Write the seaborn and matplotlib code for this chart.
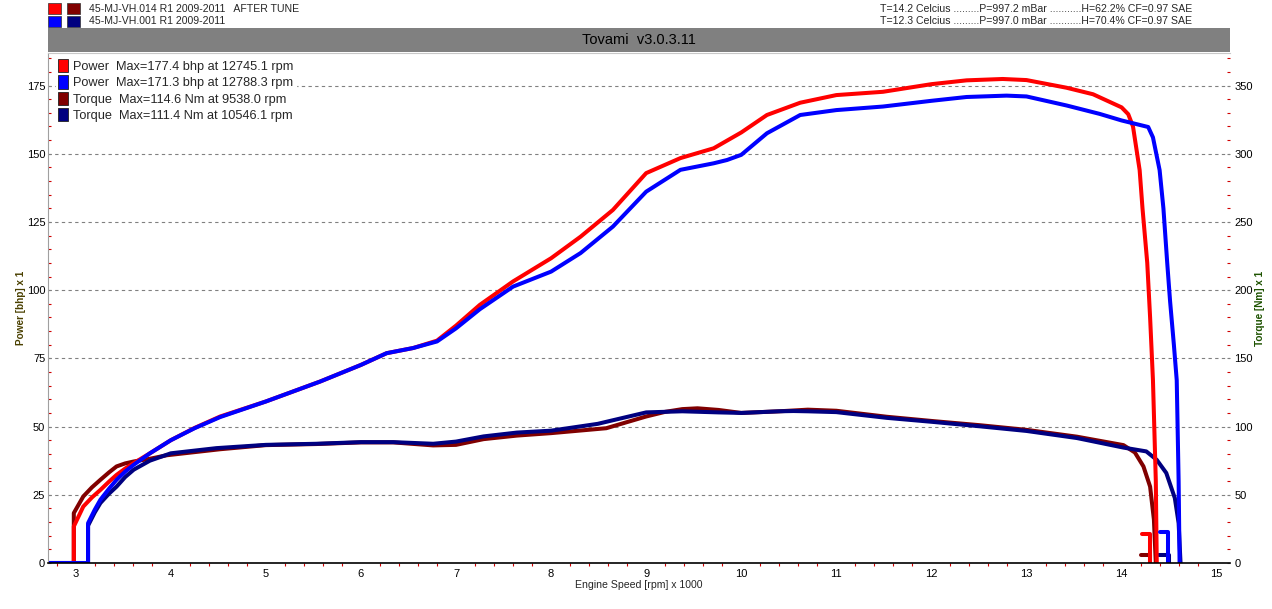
import numpy as np
import pandas as pd
import matplotlib
matplotlib.use("Agg")
import matplotlib.pyplot as plt
import seaborn as sns
from matplotlib.patches import Rectangle, Patch
from matplotlib.ticker import MultipleLocator

# ---------------- data (rpm in x1000) ----------------
rpm_power_tuned = [2.71, 2.98, 2.98, 3.08, 3.17, 3.26, 3.35, 3.43, 3.52, 3.61, 3.78, 4.00, 4.25,
                   4.52, 5.00, 5.57, 6.00, 6.27, 6.55, 6.80, 7.00, 7.25, 7.60, 8.00, 8.31, 8.65,
                   9.00, 9.36, 9.71, 10.00, 10.27, 10.62, 11.00, 11.49, 12.00, 12.37, 12.75,
                   13.00, 13.42, 13.70, 14.00, 14.07, 14.12, 14.19, 14.22, 14.27, 14.30, 14.33,
                   14.36, 14.37]
power_tuned = [0, 0, 13.4, 20.7, 24.0, 26.8, 29.8, 32.3, 34.6, 36.6, 40.2, 45.0, 49.5,
               53.7, 59.2, 66.5, 72.6, 76.9, 78.8, 81.5, 87.0, 94.6, 103.2, 111.7, 119.6, 129.4,
               142.9, 148.4, 152.0, 157.8, 164.2, 168.7, 171.5, 172.7, 175.5, 176.9, 177.4,
               177.0, 174.2, 171.8, 167.0, 164.5, 160.0, 144.0, 130.0, 110.0, 90.0, 67.0,
               30.0, 0]

rpm_power_stock = [2.71, 3.13, 3.13, 3.20, 3.26, 3.35, 3.43, 3.52, 3.61, 3.78, 4.00, 4.25, 4.52,
                   5.00, 5.57, 6.00, 6.27, 6.55, 6.80, 7.00, 7.25, 7.60, 8.00, 8.31, 8.65, 9.00,
                   9.36, 9.71, 9.85, 10.00, 10.27, 10.62, 11.00, 11.49, 12.00, 12.37, 12.79,
                   13.00, 13.42, 13.77, 14.00, 14.28, 14.33, 14.40, 14.44, 14.48, 14.51, 14.55,
                   14.58, 14.60, 14.61]
power_stock = [0, 0, 14.6, 19.5, 23.2, 27.2, 30.5, 33.5, 36.0, 40.2, 45.0, 49.4, 53.5,
               59.2, 66.5, 72.6, 76.9, 78.8, 81.2, 86.0, 93.0, 101.3, 106.8, 113.6, 123.3, 136.1,
               144.1, 146.5, 147.7, 149.6, 157.5, 164.2, 166.0, 167.3, 169.4, 170.8, 171.3,
               171.0, 167.7, 164.6, 162.2, 159.8, 156.0, 144.0, 130.0, 110.0, 96.0, 80.0,
               67.0, 30.0, 0]

rpm_torque_tuned = [2.71, 2.98, 2.98, 3.08, 3.17, 3.26, 3.35, 3.43, 3.52, 3.61, 3.78, 3.96, 4.52,
                    5.00, 5.53, 6.00, 6.34, 6.76, 7.00, 7.29, 7.64, 8.00, 8.58, 9.00, 9.20, 9.38,
                    9.54, 9.76, 10.00, 10.40, 10.70, 11.00, 11.53, 12.02, 12.51, 13.00, 13.53,
                    14.02, 14.14, 14.23, 14.30, 14.34, 14.36]
torque_tuned = [0, 0, 36.6, 48.8, 55.4, 61.0, 66.4, 70.8, 73.0, 74.4, 76.4, 79.0, 83.4,
                86.4, 87.2, 88.4, 88.4, 86.2, 86.6, 90.8, 93.4, 95.2, 98.8, 107.4, 110.8, 112.8,
                113.4, 112.2, 110.0, 111.2, 112.4, 111.6, 107.2, 104.0, 101.0, 97.6, 92.6,
                86.4, 81.0, 70.8, 56.0, 31.8, 0]

rpm_torque_stock = [2.71, 3.13, 3.13, 3.20, 3.26, 3.35, 3.43, 3.52, 3.61, 3.78, 4.00, 4.48, 5.00,
                    5.53, 6.00, 6.34, 6.76, 7.00, 7.29, 7.64, 8.00, 8.49, 9.00, 9.38, 9.76, 10.00,
                    10.40, 10.55, 10.70, 11.00, 11.53, 12.02, 12.51, 13.00, 13.53, 14.02, 14.26,
                    14.37, 14.47, 14.56, 14.60, 14.62]
torque_stock = [0, 0, 27.4, 37.0, 44.0, 50.8, 56.0, 63.0, 68.4, 75.0, 80.4, 84.2, 86.6,
                87.4, 88.6, 88.6, 87.4, 89.0, 92.8, 95.6, 97.0, 102.0, 110.4, 111.2, 110.4, 110.0,
                111.2, 111.4, 111.2, 110.6, 106.4, 103.4, 100.2, 96.8, 91.6, 84.6, 81.8,
                75.6, 66.0, 47.6, 29.2, 0]

# run-down fragments near the end of each run
rpm_rundown_power_tuned = [14.21, 14.30, 14.30]
rundown_power_tuned = [10.7, 10.7, 0]
rpm_rundown_torque_tuned = [14.20, 14.30, 14.30]
rundown_torque_tuned = [6.0, 6.0, 0]
rpm_rundown_power_stock = [14.40, 14.49, 14.49]
rundown_power_stock = [11.2, 11.2, 0]
rpm_rundown_torque_stock = [14.39, 14.50, 14.50]
rundown_torque_stock = [6.0, 6.0, 0]

legend_labels = ["Power  Max=177.4 bhp at 12745.1 rpm",
                 "Power  Max=171.3 bhp at 12788.3 rpm",
                 "Torque  Max=114.6 Nm at 9538.0 rpm",
                 "Torque  Max=111.4 Nm at 10546.1 rpm"]
run_labels = ["45-MJ-VH.014 R1 2009-2011   AFTER TUNE", "45-MJ-VH.001 R1 2009-2011"]
cond_labels = ["T=14.2 Celcius .........P=997.2 mBar ...........H=62.2% CF=0.97 SAE",
               "T=12.3 Celcius .........P=997.0 mBar ...........H=70.4% CF=0.97 SAE"]
title_text = "Tovami  v3.0.3.11"

C_RED, C_BLUE, C_DRED, C_NAVY = "#ff0000", "#0000ff", "#800000", "#000080"

# ---------------- figure ----------------
sns.set_theme(style="white")
plt.rcParams["font.family"] = ["Liberation Sans", "DejaVu Sans"]

W, H = 1272, 609
fig = plt.figure(figsize=(W / 100, H / 100), dpi=100, facecolor="white")

def fx(px):
    return px / W

def fy(py):
    return 1 - py / H

ax = fig.add_axes([fx(48), fy(563), fx(1230) - fx(48), (563 - 53) / H])
ax2 = ax.twinx()
# torque axes beneath, power axes on top
ax.set_zorder(ax2.get_zorder() + 1)
ax.patch.set_visible(False)
ax2.patch.set_visible(True)
ax2.patch.set_facecolor("white")

LW = 2.9
def line(axis, xs, ys, color):
    df = pd.DataFrame({"x": xs, "y": ys})
    sns.lineplot(data=df, x="x", y="y", ax=axis, color=color, linewidth=LW,
                 sort=False, estimator=None, legend=False)

line(ax2, rpm_torque_tuned, torque_tuned, C_DRED)
line(ax2, rpm_rundown_torque_tuned, rundown_torque_tuned, C_DRED)
line(ax2, rpm_torque_stock, torque_stock, C_NAVY)
line(ax2, rpm_rundown_torque_stock, rundown_torque_stock, C_NAVY)
line(ax, rpm_power_tuned, power_tuned, C_RED)
line(ax, rpm_rundown_power_tuned, rundown_power_tuned, C_RED)
line(ax, rpm_power_stock, power_stock, C_BLUE)
line(ax, rpm_rundown_power_stock, rundown_power_stock, C_BLUE)

xmin = 3 + (48 - 75.7) / 95.08
xmax = 3 + (1230 - 75.7) / 95.08
ytop = (563.3 - 53) / 2.73
ax.set_xlim(xmin, xmax)
ax2.set_xlim(xmin, xmax)
ax.set_ylim(0, ytop)
ax2.set_ylim(0, 2 * ytop)

ax.set_xticks(range(3, 16))
ax.xaxis.set_minor_locator(MultipleLocator(0.2))
ax.set_yticks(range(0, 176, 25))
ax.yaxis.set_minor_locator(MultipleLocator(5))
ax2.set_yticks(range(0, 351, 50))
ax2.yaxis.set_minor_locator(MultipleLocator(10))

grid_kw = dict(color="#808080", linewidth=0.8, linestyle=(0, (3, 3)))
ax2.grid(False)
ax.grid(False)
ax2.xaxis.grid(True, which="major", **grid_kw)
ax2.yaxis.grid(True, which="major", **grid_kw)
ax2.set_axisbelow(True)

TICK_FS = 8
ax.tick_params(axis="x", which="major", length=0, pad=4, labelsize=TICK_FS, colors="black")
ax.tick_params(axis="x", which="minor", bottom=True, direction="out", length=2.5,
               width=0.8, color="#d00000")
ax.tick_params(axis="y", which="major", left=True, direction="in", length=2.5, width=0.8,
               color="#808080", pad=2, labelsize=TICK_FS, labelcolor="black")
ax.tick_params(axis="y", which="minor", left=True, direction="in", length=2.5,
               width=0.8, color="#d00000")
ax2.tick_params(axis="y", which="major", right=True, direction="in", length=2.5, width=0.8,
                color="#808080", pad=3, labelsize=TICK_FS, labelcolor="black")
ax2.tick_params(axis="y", which="minor", right=True, direction="in", length=2.5,
                width=0.8, color="#d00000")
ax2.tick_params(axis="x", which="both", bottom=False, labelbottom=False)

for a in (ax, ax2):
    for s in a.spines.values():
        s.set_visible(False)
ax.spines["bottom"].set_visible(True)
ax.spines["bottom"].set_color("black")
ax.spines["bottom"].set_linewidth(1.2)
ax.spines["left"].set_visible(True)
ax.spines["left"].set_color("#a0a0a0")
ax.spines["left"].set_linewidth(0.8)
ax.spines["top"].set_visible(True)
ax.spines["top"].set_color("#c8c8c8")
ax.spines["top"].set_linewidth(0.8)

ax.set_xlabel("Engine Speed [rpm] x 1000", fontsize=7.6, labelpad=1)
ax.set_ylabel("Power [bhp] x 1", fontsize=7.2, fontweight="bold", color="#4a4000", labelpad=0.5)
ax2.set_ylabel("Torque [Nm] x 1", fontsize=7.2, fontweight="bold", color="#1d5200",
               labelpad=1.5)

# inner legend
handles = [Patch(facecolor=c, edgecolor="#202020", linewidth=0.6)
           for c in (C_RED, C_BLUE, C_DRED, C_NAVY)]
leg = ax.legend(handles, legend_labels, loc="upper left",
                bbox_to_anchor=((56 - 48) / (1230 - 48), 1 - (57 - 53) / (563 - 53)),
                frameon=True, facecolor="white", edgecolor="white", framealpha=1,
                fancybox=False, borderpad=0.15, borderaxespad=0, handlelength=0.75,
                handleheight=1.25, handletextpad=0.45, labelspacing=0.18,
                prop={"family": "Liberation Sans", "size": 9.2})

# title bar
fig.add_artist(Rectangle((fx(48), fy(52)), fx(1230) - fx(48), (52 - 28) / H,
                         transform=fig.transFigure, facecolor="#808080", edgecolor="none"))
fig.text(fx(639), fy(40), title_text, ha="center", va="center", fontsize=10.5, color="black")

# top-left run legend
for i, (c1, c2, lab) in enumerate([(C_RED, C_DRED, run_labels[0]), (C_BLUE, C_NAVY, run_labels[1])]):
    y0 = 3 + 13 * i
    for j, c in enumerate((c1, c2)):
        x0 = 48 + 19 * j
        fig.add_artist(Rectangle((fx(x0), fy(y0 + 11)), 13 / W, 11 / H,
                                 transform=fig.transFigure, facecolor=c,
                                 edgecolor="#303030", linewidth=0.5))
    fig.text(fx(89), fy(y0 + 5.5), lab, ha="left", va="center", fontsize=7.6)

# top-right conditions
for i, lab in enumerate(cond_labels):
    fig.text(fx(880), fy(8.5 + 13 * i), lab, ha="left", va="center", fontsize=7.6)

fig.savefig("out.png", dpi=100, facecolor="white")
